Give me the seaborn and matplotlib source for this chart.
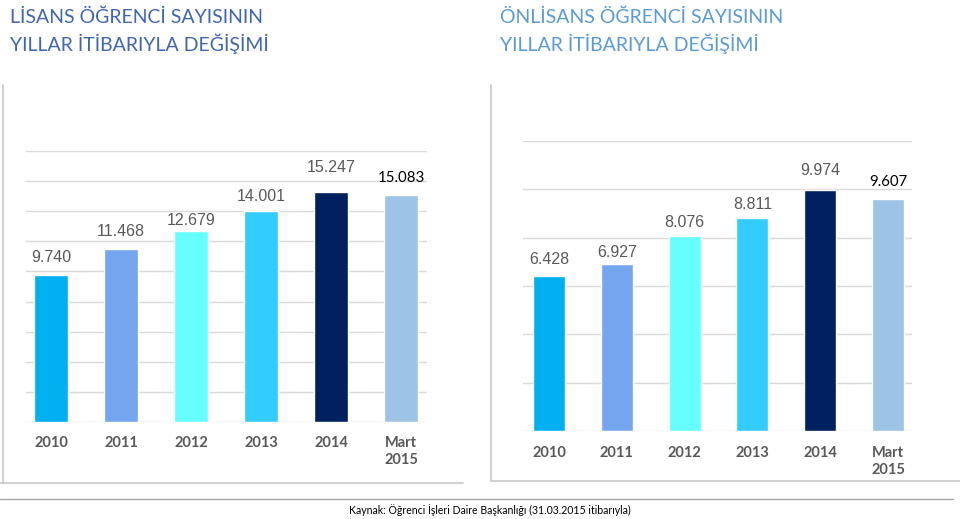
import matplotlib
matplotlib.use("Agg")
import matplotlib.pyplot as plt
import seaborn as sns
import pandas as pd
from matplotlib.lines import Line2D

years = ["2010", "2011", "2012", "2013", "2014", "Mart\n2015"]
lisans = [9740, 11468, 12679, 14001, 15247, 15083]
onlisans = [6428, 6927, 8076, 8811, 9974, 9607]
lisans_labels = ["9.740", "11.468", "12.679", "14.001", "15.247", "15.083"]
onlisans_labels = ["6.428", "6.927", "8.076", "8.811", "9.974", "9.607"]

bar_colors = ["#00B0F0", "#76A5EF", "#66FFFF", "#33CCFF", "#002060", "#9DC3E6"]
# label gap above each bar, in pixels
lisans_gap = [18, 18, 11, 15, 25, 17]
onlisans_gap = [16, 11, 13, 14, 19, 17]

sns.set_theme(style="white")
plt.rcParams["font.family"] = ["Lato", "DejaVu Sans"]

W, H = 960, 519
fig = plt.figure(figsize=(9.6, 5.19), dpi=100)


def px_axes(x0, x1, ytop, ybot):
    return fig.add_axes([x0 / W, 1 - ybot / H, (x1 - x0) / W, (ybot - ytop) / H])


def draw_panel(ax, values, labels, gaps, ymax, step, xlim, width, pad):
    df = pd.DataFrame({"year": years, "value": values})
    sns.barplot(data=df, x="year", y="value", hue="year", palette=bar_colors,
                width=width, legend=False, saturation=1, ax=ax)
    ax.set_ylim(0, ymax)
    ax.set_xlim(*xlim)
    ax.set_yticks(range(0, ymax + 1, step))
    ax.yaxis.grid(True, color="#D9D9D9", linewidth=1)
    ax.set_axisbelow(True)
    ax.set_yticklabels([])
    ax.tick_params(axis="y", length=0)
    ax.tick_params(axis="x", length=0, pad=pad)
    for lab in ax.get_xticklabels():
        lab.set_color("#595959")
        lab.set_fontweight("bold")
        lab.set_fontsize(10.5)
        lab.set_linespacing(1.25)
        lab.set_verticalalignment("top")
    for s in ax.spines.values():
        s.set_visible(False)
    ax.set_xlabel("")
    ax.set_ylabel("")
    for i, (v, t, g) in enumerate(zip(values, labels, gaps)):
        last = i == len(values) - 1
        ax.annotate(t, (i, v), xytext=(0, g * 0.72), textcoords="offset points",
                    ha="center", va="center",
                    color="black" if last else "#595959",
                    fontsize=10.8 if last else 11.5,
                    family=["Lato", "DejaVu Sans"] if last else ["Liberation Sans"])


ax1 = px_axes(26, 427, 151, 422)
draw_panel(ax1, lisans, lisans_labels, lisans_gap, 18000, 2000,
           (-0.357, 5.37), 0.49, 10)

ax2 = px_axes(523, 912, 141, 431)
draw_panel(ax2, onlisans, onlisans_labels, onlisans_gap, 12000, 2000,
           (-0.383, 5.354), 0.47, 11)

# titles
fig.text(10 / W, 1 - 17 / H, "LİSANS ÖĞRENCİ SAYISININ", color="#3F67B0",
         fontsize=14, va="center", ha="left")
fig.text(10 / W, 1 - 44 / H, "YILLAR İTİBARIYLA DEĞİŞİMİ", color="#3F67B0",
         fontsize=14, va="center", ha="left")
fig.text(500 / W, 1 - 17 / H, "ÖNLİSANS ÖĞRENCİ SAYISININ", color="#5B9BD5",
         fontsize=14, va="center", ha="left")
fig.text(500 / W, 1 - 44 / H, "YILLAR İTİBARIYLA DEĞİŞİMİ", color="#5B9BD5",
         fontsize=14, va="center", ha="left")


def fig_line(x0, y0, x1, y1, color, lw=1.0):
    fig.add_artist(Line2D([x0 / W, x1 / W], [1 - y0 / H, 1 - y1 / H],
                          color=color, linewidth=lw, transform=fig.transFigure))


# panel frames
fig_line(3, 85, 3, 483, "#C8C8C8", 1.2)
fig_line(0, 483, 463, 483, "#C8C8C8", 1.2)
fig_line(491, 85, 491, 481, "#C8C8C8", 1.2)
fig_line(491, 481, 960, 481, "#C8C8C8", 1.2)
fig_line(0, 499, 953, 499, "#A6A6A6", 1.0)

fig.text(490 / W, 1 - 510 / H,
         "Kaynak: Öğrenci İşleri Daire Başkanlığı (31.03.2015 itibarıyla)",
         color="black", fontsize=7.6, ha="center", va="center")

fig.savefig("out.png", dpi=100)
